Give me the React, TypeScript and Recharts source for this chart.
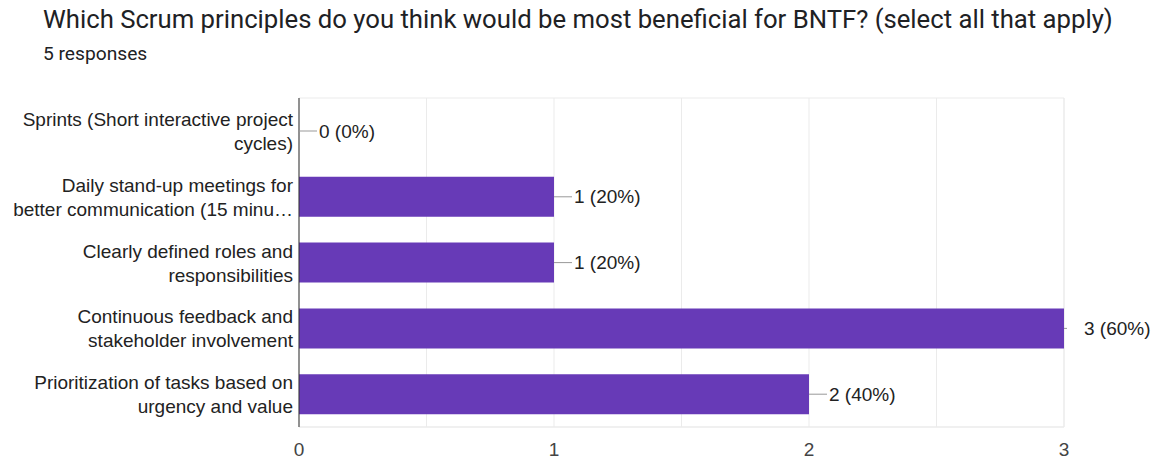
import React from "react";
import {
  Bar,
  BarChart,
  CartesianGrid,
  LabelList,
  ReferenceArea,
  XAxis,
  YAxis,
} from "recharts";

const title =
  "Which Scrum principles do you think would be most beneficial for BNTF? (select all that apply)";
const subtitle = "5 responses";

const categories = [
  "Sprints (Short interactive project\ncycles)",
  "Daily stand-up meetings for\nbetter communication (15 minu\u2026",
  "Clearly defined roles and\nresponsibilities",
  "Continuous feedback and\nstakeholder involvement",
  "Prioritization of tasks based on\nurgency and value",
];
const counts = [0, 1, 1, 3, 2];
const percents = [0, 20, 20, 60, 40];
const xTicks = [0, 0.5, 1, 1.5, 2, 2.5, 3];

const data = categories.map((name, i) => ({
  name,
  count: counts[i],
  label: `${counts[i]} (${percents[i]}%)`,
}));

const FONT = "Arial, 'Liberation Sans', sans-serif";
const PLOT_RIGHT = 1064;

function CategoryTick(props: any) {
  const { x, y, payload } = props;
  const lines: string[] = String(payload.value).split("\n");
  const lh = 24;
  const startY = y - ((lines.length - 1) * lh) / 2;
  return (
    <text
      x={x - 4}
      y={startY}
      textAnchor="end"
      fontSize={19}
      fontFamily={FONT}
      fill="#222222"
      dominantBaseline="central"
    >
      {lines.map((l, i) => (
        <tspan key={i} x={x - 4} y={startY + i * lh}>
          {l}
        </tspan>
      ))}
    </text>
  );
}

function ValueLabel(props: any) {
  const { x, y, width, height, value } = props;
  const end = x + Math.round(width);
  const cy = y + height / 2;
  const lineEnd = Math.min(end + 18, PLOT_RIGHT + 3);
  return (
    <g>
      <line x1={end} y1={cy} x2={lineEnd} y2={cy} stroke="#999999" strokeWidth={1} />
      <text
        x={end + 20}
        y={cy}
        fontSize={19}
        fontFamily={FONT}
        fill="#222222"
        dominantBaseline="central"
      >
        {value}
      </text>
    </g>
  );
}

export default function App() {
  return (
    <div
      style={{
        position: "absolute",
        left: 0,
        top: 0,
        width: 1157,
        height: 460,
        background: "#fff",
      }}
    >
      <div
        style={{
          position: "absolute",
          left: 43,
          top: 4,
          fontFamily: "Roboto, sans-serif",
          fontSize: 25.7,
          color: "#202124",
          whiteSpace: "nowrap",
        }}
      >
        {title}
      </div>
      <div
        style={{
          position: "absolute",
          left: 43,
          top: 42,
          fontFamily: "Roboto, sans-serif",
          fontSize: 19.2,
          color: "#202124",
          whiteSpace: "nowrap",
        }}
      >
        {subtitle}
      </div>
      <div style={{ position: "absolute", left: 0, top: 0 }}>
        <BarChart
          layout="vertical"
          width={1157}
          height={460}
          data={data}
          margin={{ top: 98, right: 93, bottom: 0, left: 0 }}
          barSize={40}
        >
          <CartesianGrid horizontal={false} stroke="#ebebeb" />
          <ReferenceArea x1={0} x2={3} stroke="#ebebeb" fill="none" ifOverflow="visible" />
          <XAxis
            type="number"
            domain={[0, 3]}
            ticks={xTicks}
            height={33}
            axisLine={{ stroke: "#ebebeb" }}
            tickLine={false}
            tickMargin={10}
            tickFormatter={(v: number) => (Number.isInteger(v) ? String(v) : "")}
            tick={{ fontSize: 19, fontFamily: FONT, fill: "#444444" }}
          />
          <YAxis
            type="category"
            dataKey="name"
            width={299}
            axisLine={{ stroke: "#333333" }}
            tickLine={false}
            tickSize={0}
            tick={<CategoryTick />}
          />
          <Bar
            dataKey="count"
            fill="#673ab7"
            minPointSize={0.01}
            isAnimationActive={false}
          >
            <LabelList dataKey="label" content={<ValueLabel />} />
          </Bar>
        </BarChart>
      </div>
    </div>
  );
}
